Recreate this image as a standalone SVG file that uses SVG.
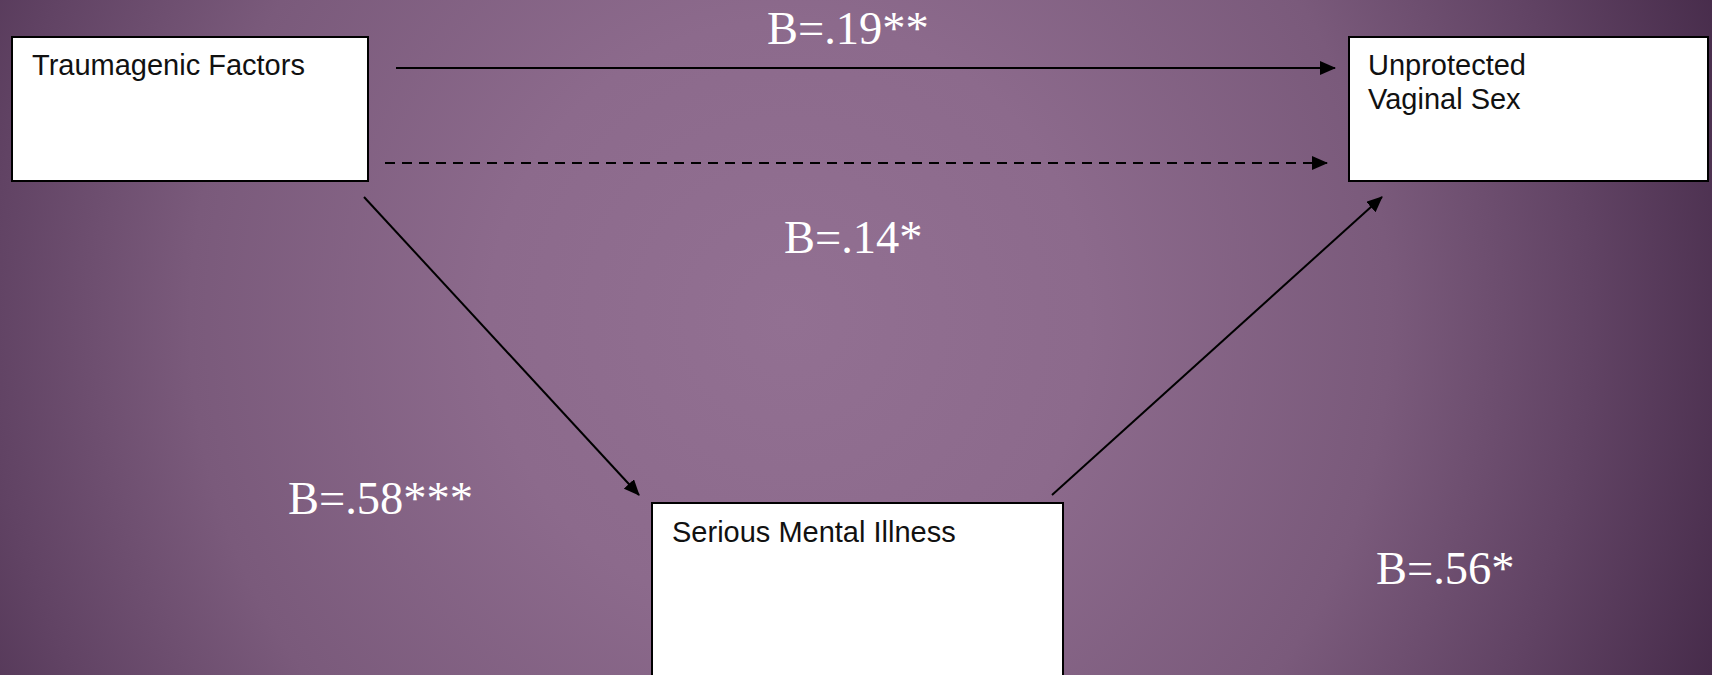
<svg xmlns="http://www.w3.org/2000/svg" width="1712" height="675" viewBox="0 0 1712 675">
  <defs>
    <radialGradient id="bg" gradientUnits="userSpaceOnUse" cx="790" cy="320" r="1000">
      <stop offset="0" stop-color="#927092"/>
      <stop offset="0.3" stop-color="#8c6a8c"/>
      <stop offset="0.6" stop-color="#7a5a7b"/>
      <stop offset="0.8" stop-color="#614364"/>
      <stop offset="1" stop-color="#452a49"/>
    </radialGradient>
    <marker id="arrow" markerUnits="userSpaceOnUse" markerWidth="16" markerHeight="14" refX="15" refY="7" orient="auto">
      <path d="M0,0 L16,7 L0,14 Z" fill="#000"/>
    </marker>
    <style>
      .box { fill: #ffffff; stroke: #000000; stroke-width: 2; }
      .label { font-family: "Liberation Sans", Arial, sans-serif; font-size: 29px; fill: #111111; }
      .coef { font-family: "Liberation Serif", "Times New Roman", serif; font-size: 46.5px; fill: #ffffff; }
      .conn { stroke: #000000; stroke-width: 2; fill: none; marker-end: url(#arrow); }
      .dash { stroke-dasharray: 10 7; }
    </style>
  </defs>
  <rect x="0" y="0" width="1712" height="675" fill="url(#bg)"/>

  <g id="connectors">
    <line class="conn" x1="396" y1="68" x2="1335" y2="68"/>
    <line class="conn dash" x1="385" y1="163" x2="1327" y2="163"/>
    <line class="conn" x1="364" y1="197" x2="639" y2="495"/>
    <line class="conn" x1="1052" y1="495" x2="1382" y2="197"/>
  </g>

  <g id="node-traumagenic">
    <rect class="box" x="12" y="37" width="356" height="144"/>
    <text class="label" x="32" y="75">Traumagenic Factors</text>
  </g>

  <g id="node-unprotected">
    <rect class="box" x="1349" y="37" width="359" height="144"/>
    <text class="label" x="1368" y="75">Unprotected</text>
    <text class="label" x="1368" y="109">Vaginal Sex</text>
  </g>

  <g id="node-smi">
    <rect class="box" x="652" y="503" width="411" height="200"/>
    <text class="label" x="672" y="542">Serious Mental Illness</text>
  </g>

  <g id="coefficients">
    <text class="coef" x="767" y="44">B=.19**</text>
    <text class="coef" x="784" y="253">B=.14*</text>
    <text class="coef" x="288" y="514">B=.58***</text>
    <text class="coef" x="1376" y="584">B=.56*</text>
  </g>
</svg>
